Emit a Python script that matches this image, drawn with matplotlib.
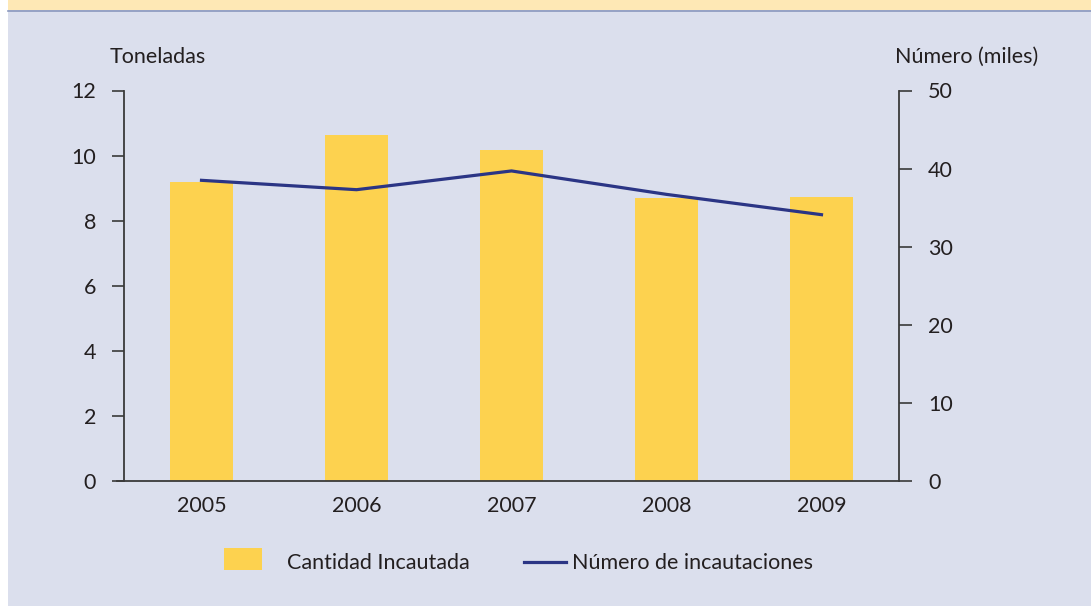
import matplotlib
import matplotlib.pyplot as plt
from matplotlib.patches import Rectangle
from matplotlib.lines import Line2D

matplotlib.use("Agg")

years = ["2005", "2006", "2007", "2008", "2009"]
toneladas = [9.18, 10.63, 10.17, 8.69, 8.72]
incautaciones = [38.5, 37.3, 39.7, 36.7, 34.1]

BG = "#dbdfed"
BAR = "#fdd24f"
LINE = "#2b3585"
AXIS = "#3a3a3a"
TEXT = "#231f20"
FS = 15.5

plt.rcParams["font.family"] = ["Lato", "DejaVu Sans"]

fig = plt.figure(figsize=(10.91, 6.06), dpi=100, facecolor=BG)

# borde izquierdo blanco y franja superior
fig.patches.append(Rectangle((0, 0), 8 / 1091, 1, transform=fig.transFigure,
                             facecolor="white", edgecolor="none", zorder=0))
fig.patches.append(Rectangle((8 / 1091, 596 / 606), 1, 10 / 606, transform=fig.transFigure,
                             facecolor="#fee8b5", edgecolor="none", zorder=0))
fig.lines.append(Line2D([8 / 1091, 1], [595.5 / 606, 595.5 / 606], transform=fig.transFigure,
                        color="#8a98bd", lw=1.2))

ax = fig.add_axes([124 / 1091, 1 - 481 / 606, 775 / 1091, 390.5 / 606])
ax.set_facecolor(BG)
x = range(len(years))
ax.bar(x, toneladas, width=0.41, color=BAR, zorder=2)
ax.set_xlim(-0.5, 4.5)
ax.set_ylim(0, 12)
ax.set_yticks(range(0, 13, 2))
ax.set_xticks(list(x))
ax.set_xticklabels(years)
ax.tick_params(axis="y", length=9, width=1.2, color=AXIS, pad=11, labelsize=FS, labelcolor=TEXT)
ax.tick_params(axis="x", length=0, pad=11, labelsize=FS, labelcolor=TEXT)
for s in ["top", "right"]:
    ax.spines[s].set_visible(False)
ax.spines["left"].set_color(AXIS)
ax.spines["left"].set_linewidth(1.3)
ax.spines["bottom"].set_color(AXIS)
ax.spines["bottom"].set_linewidth(1.3)
ax.spines["bottom"].set_bounds(-0.5 - 7 / 155, 4.5)

ax2 = ax.twinx()
ax2.plot(list(x), incautaciones, color=LINE, lw=2.3, zorder=3)
ax2.set_ylim(0, 50)
ax2.set_yticks(range(0, 51, 10))
ax2.tick_params(axis="y", length=9, width=1.2, color=AXIS, pad=12, labelsize=FS, labelcolor=TEXT)
for s in ["top", "left", "bottom"]:
    ax2.spines[s].set_visible(False)
ax2.spines["right"].set_color(AXIS)
ax2.spines["right"].set_linewidth(1.3)

fig.text(110 / 1091, 1 - 57 / 606, "Toneladas", fontsize=FS, color=TEXT, va="center", ha="left")
fig.text(1038 / 1091, 1 - 57 / 606, "Número (miles)", fontsize=FS, color=TEXT, va="center", ha="right")

# leyenda
fig.patches.append(Rectangle((224 / 1091, 1 - 570 / 606), 38 / 1091, 22 / 606,
                             transform=fig.transFigure, facecolor=BAR, edgecolor="none"))
fig.text(287 / 1091, 1 - 563 / 606, "Cantidad Incautada", fontsize=FS, color=TEXT, va="center", ha="left")
fig.lines.append(Line2D([524 / 1091, 566 / 1091], [1 - 562 / 606, 1 - 562 / 606],
                        transform=fig.transFigure, color=LINE, lw=2.3))
fig.text(572 / 1091, 1 - 563 / 606, "Número de incautaciones", fontsize=FS, color=TEXT, va="center", ha="left")

fig.savefig("out.png", dpi=100, facecolor=BG)
